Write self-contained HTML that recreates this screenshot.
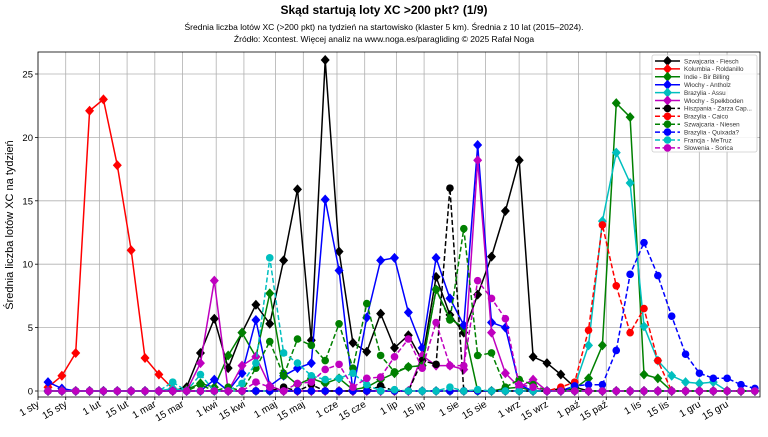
<!DOCTYPE html>
<html><head><meta charset="utf-8"><style>
body{margin:0;background:#fff;width:768px;height:432px;overflow:hidden;font-family:"Liberation Sans",sans-serif}
</style></head><body>
<svg id="s" width="768" height="432" xmlns="http://www.w3.org/2000/svg" font-family="Liberation Sans, DejaVu Sans, sans-serif">
<text x="384" y="14" text-anchor="middle" font-size="12" font-weight="bold">Skąd startują loty XC &gt;200 pkt? (1/9)</text>
<text x="384" y="30" text-anchor="middle" font-size="8.5">Średnia liczba lotów XC (&gt;200 pkt) na tydzień na startowisko (klaster 5 km). Średnia z 10 lat (2015–2024).</text>
<text x="384" y="42" text-anchor="middle" font-size="8.5">Źródło: Xcontest. Więcej analiz na www.noga.es/paragliding © 2025 Rafał Noga</text>
<text transform="translate(13,225) rotate(-90)" text-anchor="middle" font-size="11">Średnia liczba lotów XC na tydzień</text>
<g id="g"></g>
</svg>
<script>
var NS="http://www.w3.org/2000/svg",g=document.getElementById('g');
var L=38,R=760,T=52,B=397;
function X(i){return 48+13.86*i}
function Y(v){return 391-12.68*v}
function el(n,a,p){var e=document.createElementNS(NS,n);for(var k in a)e.setAttribute(k,a[k]);(p||g).appendChild(e);return e}
function txt(x,y,s,a){var e=el('text',Object.assign({x:x,y:y},a||{}));e.textContent=s;return e}
for(var v=0;v<=25;v+=5){el('line',{x1:L,x2:R,y1:Y(v),y2:Y(v),stroke:'#b0b0b0','stroke-width':0.8});
 el('line',{x1:L-3,x2:L,y1:Y(v),y2:Y(v),stroke:'#000','stroke-width':0.8});
 txt(L-5,Y(v)+3.5,v,{'text-anchor':'end','font-size':9.5});}
var labs=["1 sty","15 sty","1 lut","15 lut","1 mar","15 mar","1 kwi","15 kwi","1 maj","15 maj","1 cze","15 cze","1 lip","15 lip","1 sie","15 sie","1 wrz","15 wrz","1 paź","15 paź","1 lis","15 lis","1 gru","15 gru"];
var days=[0,14,31,45,59,73,90,104,120,134,151,165,181,195,212,226,243,257,273,287,304,318,334,348];
days.forEach(function(d,k){var x=38+1.98*d;
 el('line',{x1:x,x2:x,y1:T,y2:B,stroke:'#b0b0b0','stroke-width':0.8});
 el('line',{x1:x,x2:x,y1:B,y2:B+3,stroke:'#000','stroke-width':0.8});
 txt(x+2,B+9,labs[k],{'text-anchor':'end','font-size':10,transform:'rotate(-30 '+(x+2)+' '+(B+9)+')'});});
function S(m){var a=[];for(var i=0;i<52;i++)a.push(m[i]||0);return a}
var series=[
["Szwajcaria - Fiesch","#000",0,'d',S({10:0.3,11:3,12:5.7,13:1.8,14:4.6,15:6.8,16:5.3,17:10.3,18:15.9,19:4.0,20:26.1,21:11.0,22:3.8,23:3.1,24:6.1,25:3.4,26:4.4,27:2.4,28:9.0,29:6.0,30:4.6,31:7.6,32:10.6,33:14.2,34:18.2,35:2.7,36:2.2,37:1.3,38:0.3})],
["Kolumbia - Roldanillo","#f00",0,'d',S({0:0.3,1:1.2,2:3,3:22.1,4:23,5:17.8,6:11.1,7:2.6,8:1.3,9:0.2})],
["Indie - Bir Billing","#008000",0,'d',S({10:0.1,11:0.6,12:0.3,13:2.8,14:4.6,15:2.7,16:7.7,17:1.4,18:0.5,19:1.0,20:0.6,21:1.0,22:0.1,23:0.3,24:0.9,25:1.4,26:1.9,27:2.0,28:8.0,29:5.7,30:5.0,33:0.2,34:0.3,38:0.2,39:1.0,40:3.6,41:22.7,42:21.6,43:1.3,44:1.0})],
["Włochy - Antholz","#00f",0,'d',S({0:0.7,1:0.2,9:0.1,12:0.9,14:1.4,15:5.6,16:0.4,17:1.2,18:1.8,19:2.2,20:15.1,21:9.5,22:0,23:5.8,24:10.3,25:10.5,26:6.2,27:3.4,28:10.5,29:7.3,30:5.2,31:19.4,32:5.4,33:5.0,34:0.5})],
["Brazylia - Assu","#00bfbf",0,'d',S({9:0.2,38:0.4,39:3.6,40:13.4,41:18.8,42:16.4,43:5.1,44:2.4,45:1.2,46:0.7,47:0.6,48:0.7})],
["Włochy - Spełkboden","#bf00bf",0,'d',S({11:2.2,12:8.7,13:0,14:2.0,15:2.7,16:0.4,27:2.8,28:2.0,29:2.0,30:1.7,31:18.2,32:4.6,33:1.4,34:0.3,35:0.9})],
["Hiszpania - Zarza Cap...","#000",1,'c',S({17:0.3,19:0.5,24:0.4,27:2.4,28:2.1,29:16.0,30:0,37:0.2})],
["Brazylia - Caico","#f00",1,'c',S({37:0.3,38:0.7,39:4.8,40:13.1,41:8.3,42:4.6,43:6.5,44:2.4})],
["Szwajcaria - Niesen","#008000",1,'c',S({11:0.5,13:0.3,15:1.8,16:3.9,17:1.2,18:4.1,19:3.6,20:2.4,21:5.3,22:1.8,23:6.9,24:2.8,25:1.5,26:1.9,27:2.0,28:8.0,29:5.6,30:12.8,31:2.8,32:3.0,33:0.3,34:0.9,35:0.5})],
["Brazylia - Quixada?","#00f",1,'c',S({38:0.4,39:0.5,40:0.5,41:3.2,42:9.2,43:11.7,44:9.1,45:5.9,46:2.9,47:1.4,48:1.0,49:1.0,50:0.5,51:0.2})],
["Francja - MeTruz","#00bfbf",1,'c',S({9:0.7,11:1.3,14:0.6,15:2.2,16:10.5,17:3.0,18:2.2,19:1.2,20:0.9,21:1.0,22:1.4,23:0.5,25:0.1,29:0.3,31:0.1})],
["Słowenia - Sorica","#bf00bf",1,'c',S({15:0.7,16:0.3,18:0.6,19:0.7,20:1.7,21:2.1,22:0.3,23:1.0,24:1.1,25:2.7,26:4.1,27:1.8,28:5.4,29:2.0,30:2.0,31:8.7,32:7.3,33:5.7,34:0.5,35:0.3})]
];
function mk(x,y,t,c,p){if(t=='d')el('path',{d:'M'+x+' '+(y-5)+'L'+(x+4.5)+' '+y+'L'+x+' '+(y+5)+'L'+(x-4.5)+' '+y+'Z',fill:c},p);
 else el('circle',{cx:x,cy:y,r:3.8,fill:c},p);}
series.forEach(function(s){var d='';s[4].forEach(function(v,i){d+=(i?'L':'M')+X(i).toFixed(1)+' '+Y(v).toFixed(1)});
 el('path',{d:d,fill:'none',stroke:s[1],'stroke-width':1.5,'stroke-dasharray':s[2]?'5,2.5':''});
 s[4].forEach(function(v,i){mk(X(i),Y(v),s[3],s[1])});});
el('rect',{x:L,y:T,width:R-L,height:B-T,fill:'none',stroke:'#000','stroke-width':0.8});
el('rect',{x:652,y:55,width:105,height:97,fill:'#fff','fill-opacity':0.85,stroke:'#ccc','stroke-width':0.8,rx:2});
series.forEach(function(s,k){var y=61+k*7.9;
 el('line',{x1:655,x2:680,y1:y,y2:y,stroke:s[1],'stroke-width':1.5,'stroke-dasharray':s[2]?'5,2.5':''});
 mk(667.5,y,s[3],s[1]);
 txt(684,y+2.3,s[0],{'font-size':6.3,fill:'#333'});});
</script>
</body></html>
